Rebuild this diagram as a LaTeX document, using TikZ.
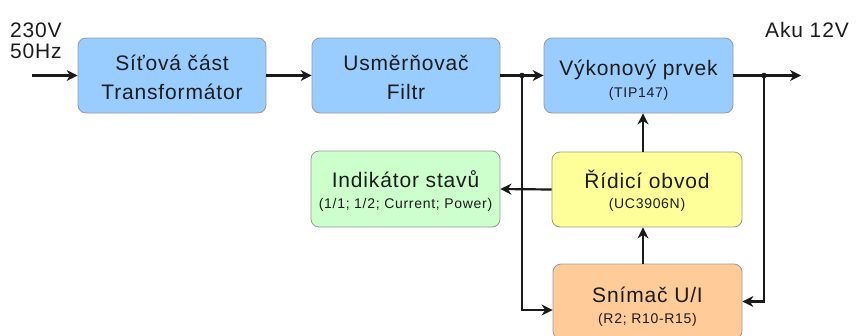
\documentclass[tikz,border=0pt]{standalone}
\usepackage{fontspec}
\setmainfont{Liberation Sans}
\newfontfamily\bigf{Liberation Sans}[LetterSpace=4]
\newfontfamily\smallf{Liberation Sans}[LetterSpace=5]
\usetikzlibrary{arrows.meta}
\definecolor{bfill}{HTML}{99CCFF}
\definecolor{gfill}{HTML}{CCFFCC}
\definecolor{yfill}{HTML}{FFFF99}
\definecolor{ofill}{HTML}{FFCC99}
\definecolor{txt}{HTML}{1C1C1C}
\definecolor{lin}{HTML}{1A1A1A}
\tikzset{
  blk/.style={draw=gray!80, line width=0.8pt, rounded corners=8pt, inner sep=0pt},
  big/.style={font=\bigf\fontsize{21}{24}\selectfont, text=txt, inner sep=0pt, anchor=base},
  sml/.style={font=\smallf\fontsize{14}{16}\selectfont, text=txt, inner sep=0pt, anchor=base},
  arr/.style={draw=lin, line width=2.2pt, -{Stealth[length=11pt,width=11pt,inset=3.5pt]}},
  wire/.style={draw=lin, line width=2.2pt},
}
\begin{document}
\begin{tikzpicture}[x=1pt,y=-1pt]
\useasboundingbox (0,0) rectangle (858,335);
% boxes
\node[blk, fill=bfill, minimum width=188pt, minimum height=75pt] (b1) at (172,75.5) {};
\node[blk, fill=bfill, minimum width=188pt, minimum height=75pt] (b2) at (406,75.5) {};
\node[blk, fill=bfill, minimum width=189pt, minimum height=75pt] (b3) at (638.5,75.5) {};
\node[blk, fill=gfill, minimum width=189pt, minimum height=76pt] (ind) at (405.5,189) {};
\node[blk, fill=yfill, minimum width=190pt, minimum height=75pt] (rid) at (647,189.5) {};
\node[blk, fill=ofill, minimum width=189pt, minimum height=75pt] (sn) at (647.5,301.5) {};
% texts
\node[big] (t1a) at (172,70) {Síťová část};
\node[big] (t1b) at (172,99) {Transformátor};
\node[big] (t2a) at (406,70) {Usměrňovač};
\node[big] (t2b) at (406,99) {Filtr};
\node[big] (t3a) at (638.5,75) {Výkonový prvek};
\node[sml] (t3b) at (638.5,97) {(TIP147)};
\node[big] (t4a) at (405.5,187) {Indikátor stavů};
\node[sml] (t4b) at (405.5,208) {(1/1; 1/2; Current; Power)};
\node[big] (t5a) at (647,188) {Řídicí obvod};
\node[sml] (t5b) at (647,208) {(UC3906N)};
\node[big] (t6a) at (647.5,302) {Snímač U/I};
\node[sml] (t6b) at (647.5,323) {(R2; R10-R15)};
\node[big, anchor=base west] (l1) at (10,37) {230V};
\node[big, anchor=base west] (l2) at (10,58) {50Hz};
\node[big, anchor=base west] (l3) at (765,37) {Aku 12V};
% coordinates
\coordinate (in) at (32,75.5);
\coordinate (j1) at (522,75.5);
\coordinate (j2) at (764,75.5);
\coordinate (out) at (801,75.5);
\coordinate (vx) at (643,0);
\coordinate (snin) at (553,310);
% connectors
\draw[arr] (in) -- (b1.west);
\draw[arr] (b1.east) -- (b2.west);
\draw[wire] (b2.east) -- (j1);
\draw[arr] (j1) -- (b3.west);
\draw[arr] (j1) |- (sn.west |- snin);
\draw[wire] (b3.east) -- (j2);
\draw[arr] (j2) -- (out);
\draw[arr] (j2) |- (sn.east);
\draw[arr] (rid.north -| vx) -- (b3.south -| vx);
\draw[arr] (sn.north -| vx) -- (rid.south -| vx);
\draw[arr] (rid.west) -- (ind.east);
\fill[lin] (j1) circle (2.8pt);
\fill[lin] (j2) circle (2.8pt);
\end{tikzpicture}
\end{document}
